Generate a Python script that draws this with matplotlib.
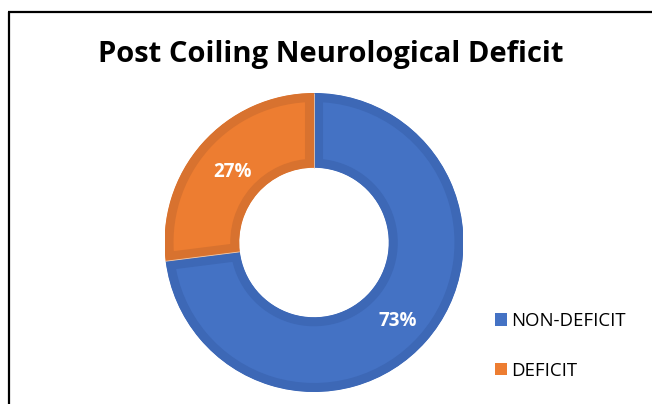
import matplotlib
matplotlib.use("Agg")
import matplotlib.pyplot as plt
from matplotlib.lines import Line2D
import numpy as np

categories = ["NON-DEFICIT", "DEFICIT"]
values = [73, 27]
colors = ["#4472C4", "#ED7D31"]
edge_colors = ["#3D68B6", "#D8722F"]
title = "Post Coiling Neurological Deficit"

W, H, DPI = 652, 404, 100
fig = plt.figure(figsize=(W / DPI, H / DPI), dpi=DPI)
fig.patch.set_facecolor("white")

cx, cy, r = 314, 404 - 242.5, 149.5
ax = fig.add_axes([(cx - r) / W, (cy - r) / H, 2 * r / W, 2 * r / H])
wedges, texts, autotexts = ax.pie(
    values, colors=colors, startangle=90, counterclock=False,
    radius=1.0, autopct=lambda p: f"{p:.0f}%", pctdistance=0.75,
    wedgeprops=dict(width=0.5, linewidth=0),
    textprops=dict(color="white", fontsize=13.5, fontweight="bold", family="Open Sans"),
)
ax.set_xlim(-1, 1)
ax.set_ylim(-1, 1)
ax.set_aspect("equal")
ax.axis("off")
for w, ec in zip(wedges, edge_colors):
    w.set_edgecolor(ec)
    w.set_linewidth(13)
    w.set_clip_on(True)
    w.set_clip_path(w)

# nudge percentage labels (pixels -> data units)
px = 1.0 / r
nudges = [(0, -4), (3, -4)]
for t, (dx, dy) in zip(autotexts, nudges):
    x, y = t.get_position()
    t.set_position((x + dx * px, y + dy * px))

# thin separators
for a in [90, 90 - 360 * values[0] / sum(values)]:
    t = np.deg2rad(a)
    ax.plot([0.5 * np.cos(t), np.cos(t)], [0.5 * np.sin(t), np.sin(t)],
            color="#F0C8A8", lw=0.6, solid_capstyle="butt", clip_on=False)

fig.text(331 / W, 1 - 54.5 / H, title, ha="center", va="center",
         fontsize=21, fontweight="bold", family="Open Sans", color="black")

leg = fig.legend(wedges, categories, loc="upper left",
                 bbox_to_anchor=(495 / W, 1 - 312 / H), frameon=False,
                 handlelength=0.65, handleheight=0.65, handletextpad=0.2,
                 labelspacing=1.7, borderpad=0, borderaxespad=0,
                 prop=dict(family="Open Sans", size=13.4))
for h, c in zip(leg.legend_handles, colors):
    h.set_edgecolor("none")
    h.set_linewidth(0)
    h.set_facecolor(c)
    h.set_clip_path(None)

fig.add_artist(Line2D([8.5 / W, 8.5 / W], [0, 1 - 12 / H], transform=fig.transFigure,
                      color="black", lw=1.6, solid_capstyle="butt"))
fig.add_artist(Line2D([8 / W, 1], [1 - 12 / H, 1 - 12 / H], transform=fig.transFigure,
                      color="black", lw=1.6, solid_capstyle="butt"))

fig.savefig("out.png", dpi=DPI)
